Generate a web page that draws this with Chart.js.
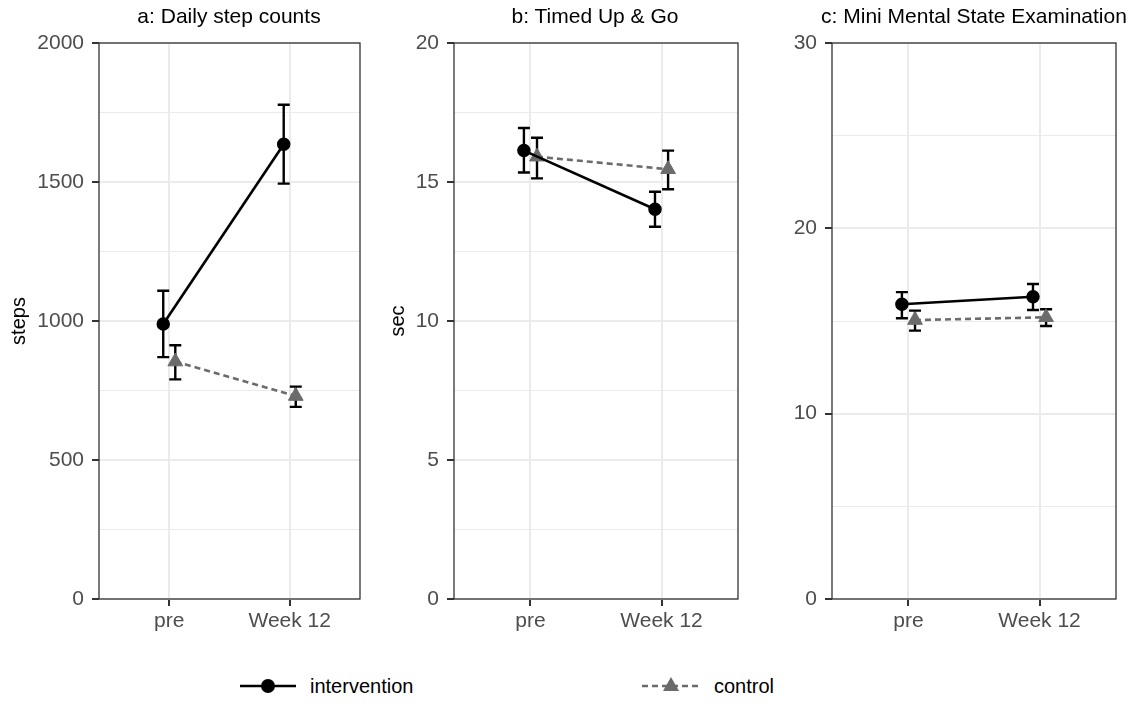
<!DOCTYPE html>
<html>
<head>
<meta charset="utf-8">
<script src="https://cdn.jsdelivr.net/npm/chart.js@4/dist/chart.umd.min.js"></script>
<style>
  body { margin: 0; background: #fff; font-family: "Liberation Sans", Arial, sans-serif; }
  #wrap { position: relative; width: 1147px; height: 725px; overflow: hidden; }
  canvas { position: absolute; top: 0; }
  .ttl { position: absolute; top: 4px; font-size: 21px; color: #000; white-space: nowrap; transform: translateX(-50%); }
  .key { position: absolute; top: 674px; height: 24px; }
  .lab { position: absolute; top: 674px; font-size: 20px; color: #000; line-height: 24px; }
</style>
</head>
<body>
<div id="wrap">
  <canvas id="pa" width="370" height="645" style="left:0px"></canvas>
  <canvas id="pb" width="373" height="645" style="left:375px"></canvas>
  <canvas id="pc" width="366" height="645" style="left:760px"></canvas>
  <div class="ttl" style="left:229px">a: Daily step counts</div>
  <div class="ttl" style="left:595px">b: Timed Up &amp; Go</div>
  <div class="ttl" style="left:974px">c: Mini Mental State Examination</div>

  <svg class="key" style="left:238px" width="60" height="24">
    <line x1="2" y1="12" x2="58" y2="12" stroke="#000" stroke-width="2.6"/>
    <circle cx="30" cy="12" r="7" fill="#000"/>
  </svg>
  <div class="lab" style="left:310px">intervention</div>
  <svg class="key" style="left:640px" width="62" height="24">
    <line x1="2" y1="12" x2="60" y2="12" stroke="#6b6b6b" stroke-width="2.6" stroke-dasharray="6 4"/>
    <polygon points="31,3 39,17 23,17" fill="#6b6b6b"/>
  </svg>
  <div class="lab" style="left:714px">control</div>
</div>
<script>
// time points on the x axis
const timepoints = ['pre', 'Week 12'];
const dodge = 0.05;

// a: daily step counts (mean, lower, upper)
const stepsInt = [989, 1636];
const stepsIntLo = [870, 1494];
const stepsIntHi = [1109, 1778];
const stepsCtl = [854, 730];
const stepsCtlLo = [790, 691];
const stepsCtlHi = [913, 764];

// b: Timed Up & Go (sec)
const tugInt = [16.13, 14.02];
const tugIntLo = [15.34, 13.39];
const tugIntHi = [16.94, 14.65];
const tugCtl = [15.91, 15.46];
const tugCtlLo = [15.13, 14.74];
const tugCtlHi = [16.59, 16.13];

// c: Mini Mental State Examination
const mmseInt = [15.90, 16.31];
const mmseIntLo = [15.15, 15.59];
const mmseIntHi = [16.56, 17.00];
const mmseCtl = [15.05, 15.20];
const mmseCtlLo = [14.48, 14.73];
const mmseCtlHi = [15.56, 15.63];

const tickFont = { family: '"Liberation Sans", Arial, sans-serif', size: 21 };

// draws the error bars under the points
const errorBars = {
  id: 'errorBars',
  beforeDatasetsDraw(chart) {
    const ctx = chart.ctx, x = chart.scales.x, y = chart.scales.y;
    const cap = 6;
    ctx.save();
    ctx.strokeStyle = '#000';
    ctx.lineWidth = 2.4;
    chart.data.datasets.forEach(ds => {
      ds.data.forEach((p, i) => {
        const px = x.getPixelForValue(p.x);
        const lo = y.getPixelForValue(ds.lo[i]);
        const hi = y.getPixelForValue(ds.hi[i]);
        ctx.beginPath();
        ctx.moveTo(px, lo); ctx.lineTo(px, hi);
        ctx.moveTo(px - cap, lo); ctx.lineTo(px + cap, lo);
        ctx.moveTo(px - cap, hi); ctx.lineTo(px + cap, hi);
        ctx.stroke();
      });
    });
    ctx.restore();
  }
};

// panel border all round (theme_bw)
const frame = {
  id: 'frame',
  afterDraw(chart) {
    const a = chart.chartArea, ctx = chart.ctx;
    ctx.save();
    ctx.strokeStyle = '#333';
    ctx.lineWidth = 1.3;
    ctx.strokeRect(a.left, a.top, a.right - a.left, a.bottom - a.top);
    ctx.restore();
  }
};

function makePanel(id, o) {
  new Chart(document.getElementById(id), {
    type: 'line',
    data: {
      datasets: [{
        label: 'intervention',
        data: o.int.map((v, i) => ({ x: i + 1 - dodge, y: v })),
        lo: o.intLo, hi: o.intHi,
        borderColor: '#000',
        backgroundColor: '#000',
        borderWidth: 2.6,
        pointStyle: 'circle',
        pointRadius: 6,
        pointBorderWidth: 1.5
      }, {
        label: 'control',
        data: o.ctl.map((v, i) => ({ x: i + 1 + dodge, y: v })),
        lo: o.ctlLo, hi: o.ctlHi,
        borderColor: '#6b6b6b',
        backgroundColor: '#6b6b6b',
        borderWidth: 2.6,
        borderDash: [6, 4],
        pointStyle: 'triangle',
        pointRadius: 8.5,
        pointBorderWidth: 1
      }]
    },
    options: {
      responsive: false,
      animation: false,
      layout: { padding: { top: 43, right: 10, left: 0, bottom: 0 } },
      plugins: { legend: { display: false }, tooltip: { enabled: false } },
      scales: {
        x: {
          type: 'linear',
          min: 0.4167,
          max: 2.5833,
          afterBuildTicks: s => { s.ticks = timepoints.map((t, i) => ({ value: i + 1 })); },
          afterFit: s => { s.height = 46; },
          ticks: { callback: v => timepoints[Math.round(v) - 1], font: tickFont, color: '#4d4d4d', padding: 3, maxRotation: 0 },
          grid: { color: '#ebebeb', lineWidth: 2, tickColor: '#333', tickLength: 7 },
          border: { display: false }
        },
        y: {
          min: 0,
          max: o.max,
          afterFit: s => { s.width = o.yw; },
          ticks: {
            stepSize: o.step / 2,
            callback: v => (Math.abs(v % o.step) > 1e-6 ? '' : v),
            font: tickFont, color: '#4d4d4d', padding: 8
          },
          grid: {
            color: '#ebebeb',
            lineWidth: c => (c.tick && Math.abs(c.tick.value % o.step) > 1e-6 ? 1 : 2),
            tickColor: c => (c.tick && Math.abs(c.tick.value % o.step) > 1e-6 ? 'rgba(0,0,0,0)' : '#333'),
            tickLength: 7
          },
          border: { display: false },
          title: {
            display: !!o.ytitle,
            text: o.ytitle,
            color: '#000',
            font: { family: tickFont.family, size: 20 },
            padding: { top: o.titlePad, bottom: 0 }
          }
        }
      }
    },
    plugins: [errorBars, frame]
  });
}

makePanel('pa', {
  int: stepsInt, intLo: stepsIntLo, intHi: stepsIntHi,
  ctl: stepsCtl, ctlLo: stepsCtlLo, ctlHi: stepsCtlHi,
  max: 2000, step: 500, yw: 99, ytitle: 'steps', titlePad: 7
});
makePanel('pb', {
  int: tugInt, intLo: tugIntLo, intHi: tugIntHi,
  ctl: tugCtl, ctlLo: tugCtlLo, ctlHi: tugCtlHi,
  max: 20, step: 5, yw: 79, ytitle: 'sec', titlePad: 11
});
makePanel('pc', {
  int: mmseInt, intLo: mmseIntLo, intHi: mmseIntHi,
  ctl: mmseCtl, ctlLo: mmseCtlLo, ctlHi: mmseCtlHi,
  max: 30, step: 10, yw: 72, ytitle: '', titlePad: 0
});
</script>
</body>
</html>
